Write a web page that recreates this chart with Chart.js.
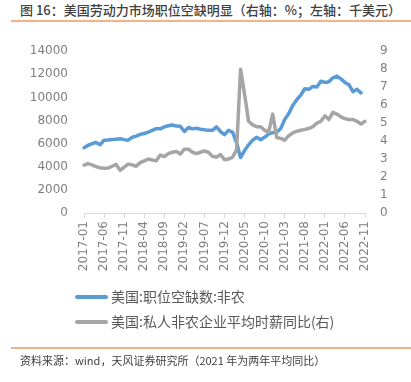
<!DOCTYPE html>
<html><head><meta charset="utf-8">
<script src="https://cdn.jsdelivr.net/npm/chart.js@4"></script>
<style>
html,body{margin:0;padding:0;background:#fff;width:411px;height:382px;overflow:hidden;font-family:"Noto Sans CJK SC",sans-serif;}
#title{position:absolute;left:20px;top:0px;font-size:13px;font-weight:500;color:#404040;white-space:nowrap;line-height:19px;}
.rule{position:absolute;left:11px;width:400px;height:2px;background:#F5B385;}
#wrap{position:absolute;left:0;top:28px;width:411px;height:260px;}
.leg{position:absolute;left:75px;font-size:14px;color:#595959;white-space:nowrap;line-height:18px;height:18px;}
.leg i{display:inline-block;width:33px;height:4px;border-radius:2px;vertical-align:middle;margin-right:3px;position:relative;top:-1px;}
#foot{position:absolute;left:20px;top:352px;font-size:11px;color:#404040;white-space:nowrap;line-height:17px;}
</style></head>
<body>
<div id="title">图 16：美国劳动力市场职位空缺明显（右轴：%；左轴：千美元）</div>
<div class="rule" style="top:20px"></div>
<div id="wrap"><canvas id="c" width="411" height="260"></canvas></div>
<div class="leg" style="top:287px"><i style="background:#5B9BD5"></i>美国:职位空缺数:非农</div>
<div class="leg" style="top:312px"><i style="background:#A5A5A5"></i>美国:私人非农企业平均时薪同比(右)</div>
<div class="rule" style="top:347px"></div>
<div id="foot">资料来源：wind，天风证券研究所（2021 年为两年平均同比）</div>
<script>
const months = [
"2017-01","2017-02","2017-03","2017-04","2017-05","2017-06","2017-07","2017-08","2017-09","2017-10","2017-11","2017-12",
"2018-01","2018-02","2018-03","2018-04","2018-05","2018-06","2018-07","2018-08","2018-09","2018-10","2018-11","2018-12",
"2019-01","2019-02","2019-03","2019-04","2019-05","2019-06","2019-07","2019-08","2019-09","2019-10","2019-11","2019-12",
"2020-01","2020-02","2020-03","2020-04","2020-05","2020-06","2020-07","2020-08","2020-09","2020-10","2020-11","2020-12",
"2021-01","2021-02","2021-03","2021-04","2021-05","2021-06","2021-07","2021-08","2021-09","2021-10","2021-11","2021-12",
"2022-01","2022-02","2022-03","2022-04","2022-05","2022-06","2022-07","2022-08","2022-09","2022-10","2022-11"];
const jobOpenings = [
5650,5850,6000,6100,5900,6300,6320,6350,6380,6430,6350,6300,
6550,6650,6800,6880,7000,7150,7300,7280,7450,7550,7610,7520,
7500,7050,7400,7280,7330,7250,7200,7150,7150,7450,7050,6780,
7150,7000,6100,4800,5400,5900,6300,6550,6350,6550,6850,6950,
7000,7300,8100,8600,9300,9800,10200,10750,10700,10950,10900,11400,
11300,11350,11700,11850,11600,11300,11100,10500,10700,10400,null];
const wageGrowth = [
2.66,2.75,2.68,2.58,2.52,2.49,2.50,2.60,2.70,2.37,2.55,2.72,
2.68,2.60,2.80,2.90,3.00,2.95,2.90,3.22,3.14,3.30,3.38,3.42,
3.28,3.55,3.55,3.38,3.30,3.38,3.45,3.38,3.15,3.10,3.25,2.96,
3.00,3.10,3.50,8.00,6.60,5.10,4.90,4.80,4.80,4.60,4.50,5.50,
4.20,4.15,4.05,4.30,4.45,4.55,4.60,4.65,4.70,4.80,5.00,5.10,
5.40,5.20,5.60,5.50,5.35,5.25,5.20,5.20,5.10,4.95,5.10];
const leftTicks = {min:0, max:14000, step:2000};
const rightTicks = {min:0, max:9, step:1};
const seriesNames = ["美国:职位空缺数:非农","美国:私人非农企业平均时薪同比(右)"];

const tickFont = {family:"DejaVu Sans", size:12};
const tickColor = "#7f7f7f";
new Chart(document.getElementById('c'), {
  type:'line',
  data:{labels:months, datasets:[
    {label:seriesNames[0], data:jobOpenings, yAxisID:'y', borderColor:'#5B9BD5', backgroundColor:'#5B9BD5', borderWidth:3.5, pointRadius:0, tension:0, borderJoinStyle:'round', borderCapStyle:'round', order:1},
    {label:seriesNames[1], data:wageGrowth, yAxisID:'y1', borderColor:'#A5A5A5', backgroundColor:'#A5A5A5', borderWidth:3.5, pointRadius:0, tension:0, borderJoinStyle:'round', borderCapStyle:'round', order:0}
  ]},
  options:{
    responsive:false, animation:false, devicePixelRatio:1,
    layout:{padding:{top:19,left:0,right:0,bottom:0}},
    plugins:{legend:{display:false}, tooltip:{enabled:false}},
    scales:{
      x:{offset:false,
        grid:{display:true, drawOnChartArea:false, drawTicks:true, tickLength:5, color:'#d9d9d9', lineWidth:1},
        border:{display:true, color:'#d9d9d9'},
        ticks:{autoSkip:false, maxRotation:90, minRotation:90, padding:3, color:tickColor, font:tickFont},
        afterBuildTicks:s=>{s.ticks = s.ticks.filter((t,i)=>i%5===0);},
        afterFit:s=>{s.height=75;}
      },
      y:{position:'left', min:leftTicks.min, max:leftTicks.max,
        ticks:{stepSize:leftTicks.step, padding:16, color:tickColor, font:tickFont, callback:v=>String(v)},
        grid:{display:false, drawTicks:false}, border:{display:false},
        afterFit:s=>{s.width=84;}
      },
      y1:{position:'right', min:rightTicks.min, max:rightTicks.max,
        ticks:{stepSize:rightTicks.step, padding:15, color:tickColor, font:tickFont, callback:v=>String(v)},
        grid:{display:false, drawTicks:false}, border:{display:false},
        afterFit:s=>{s.width=46;}
      }
    }
  }
});
</script>
</body></html>
